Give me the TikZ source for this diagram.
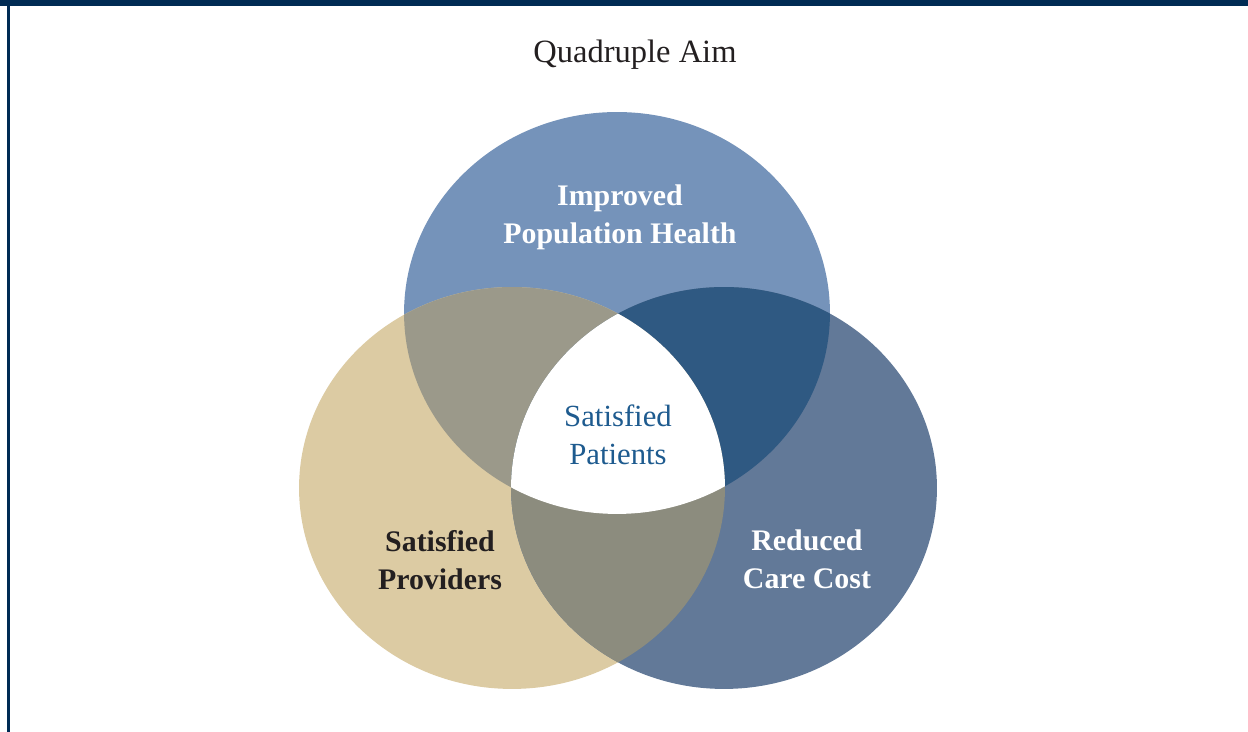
\documentclass[tikz,border=0pt]{standalone}
\usepackage{fontspec}
\setmainfont{Liberation Serif}
\definecolor{navy}{HTML}{002B54}
\definecolor{popblue}{HTML}{7593BA}
\definecolor{provtan}{HTML}{DCCBA3}
\definecolor{costblue}{HTML}{627998}
\definecolor{popcost}{HTML}{2F5982}
\definecolor{popprov}{HTML}{9B998A}
\definecolor{provcost}{HTML}{8C8C7E}
\definecolor{patientblue}{HTML}{1E5B8F}
\definecolor{provtext}{HTML}{231F20}
\def\popring{(617,419) ellipse [x radius=4.26cm, y radius=4.02cm]}
\def\provring{(512,244) ellipse [x radius=4.26cm, y radius=4.02cm]}
\def\costring{(724,244) ellipse [x radius=4.26cm, y radius=4.02cm]}
\begin{document}
\begin{tikzpicture}[x=0.02cm,y=0.02cm,
  aim/.style={align=center,font=\fontsize{17.5}{21.5}\selectfont},
  aimbold/.style={align=center,font=\fontsize{17}{21.5}\selectfont\bfseries}]
\useasboundingbox (0,0) rectangle (1248,732);
\fill[navy] (0,726) rectangle (1248,732);
\fill[navy] (7,0) rectangle (10,726);
\fill[popblue] \popring;
\fill[provtan] \provring;
\fill[costblue] \costring;
\begin{scope}
\clip \popring;
\fill[popprov] \provring;
\fill[popcost] \costring;
\end{scope}
\begin{scope}
\clip \provring;
\fill[provcost] \costring;
\clip \costring;
\fill[white] \popring;
\end{scope}
\node[anchor=base,text=provtext,font=\fontsize{18.5}{22}\selectfont] (title) at (635,669) {Quadruple Aim};
\node[aimbold,text=white] (pop) at (620,515) {Improved\\Population Health};
\node[aim,text=patientblue] (patients) at (618,297) {Satisfied\\Patients};
\node[aimbold,text=provtext] (prov) at (440,172) {Satisfied\\Providers};
\node[aimbold,text=white] (cost) at (807,173) {Reduced\\Care Cost};
\end{tikzpicture}
\end{document}
